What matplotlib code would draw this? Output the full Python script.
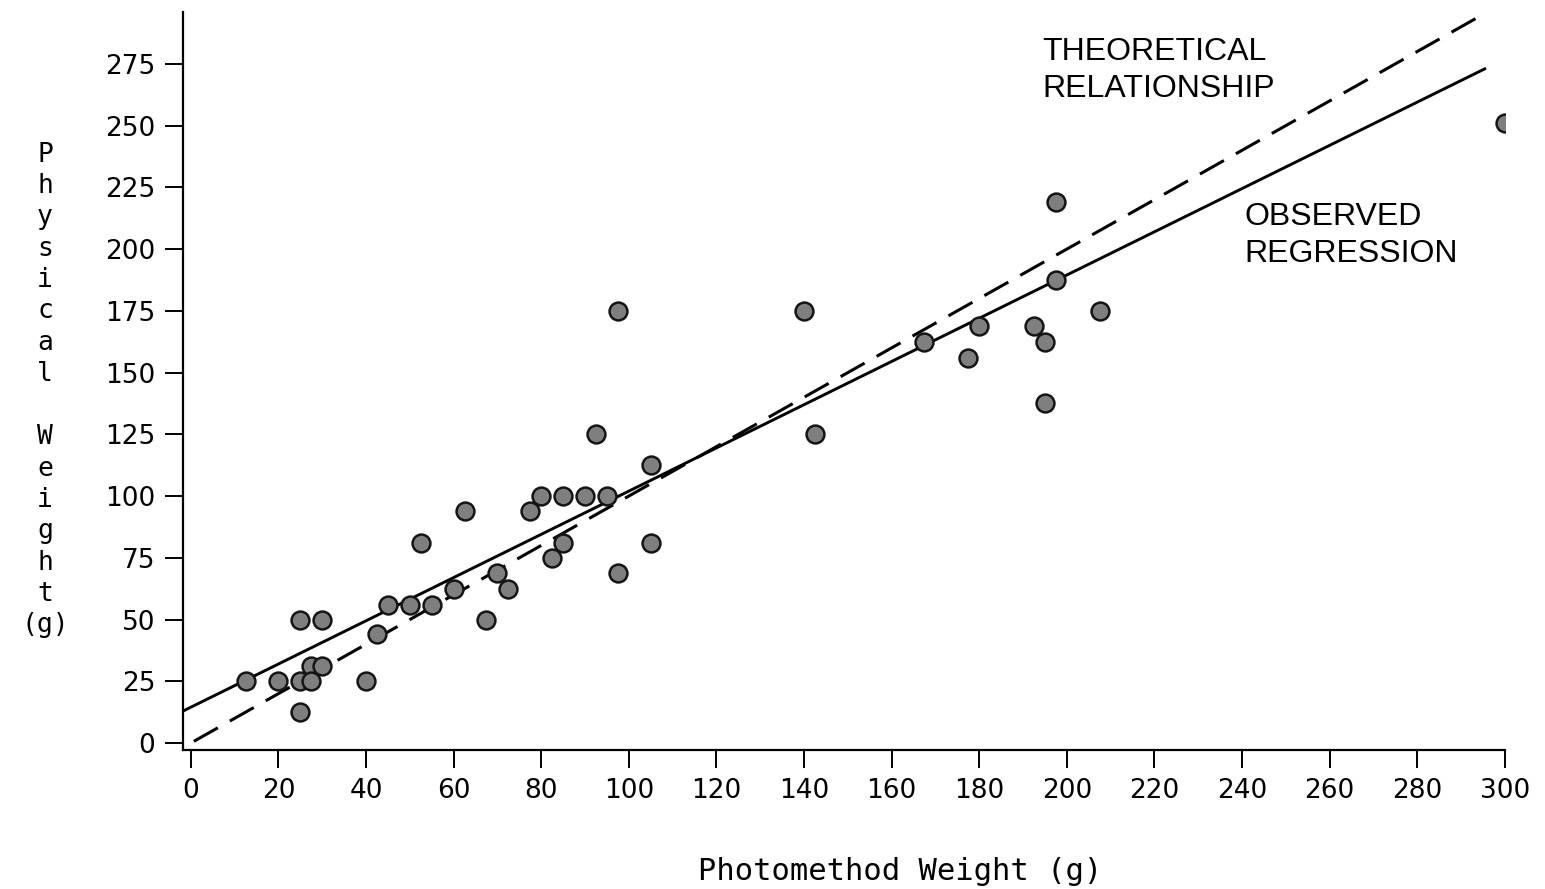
#!/usr/bin/env python

import numpy as np
import matplotlib.pyplot as plt

# photomethod weight (g) vs physical weight (g)
photo_weight = [12.5, 20, 25, 25, 25, 27.5, 27.5, 30, 30, 40, 42.5, 45, 50, 52.5, 55,
                60, 62.5, 67.5, 70, 72.5, 77.5, 80, 82.5, 85, 85, 90, 92.5, 95, 97.5, 97.5,
                105, 105, 140, 142.5, 167.5, 177.5, 180, 192.5, 195, 195, 197.5, 197.5,
                207.5, 300]
physical_weight = [25, 25, 50, 25, 12.5, 31, 25, 50, 31, 25, 44, 56, 56, 81, 56,
                   62.5, 94, 50, 69, 62.5, 94, 100, 75, 100, 81, 100, 125, 100, 175, 69,
                   112.5, 81, 175, 125, 162.5, 156, 169, 169, 162.5, 137.5, 219, 187.5,
                   175, 251]

# observed regression line
reg_intercept = 14.5
reg_slope = 0.875

x_ticks = list(range(0, 301, 20))
y_ticks = list(range(0, 276, 25))

fig = plt.figure(figsize=(15.45, 8.89), dpi=100)
ax = fig.add_axes([0.1184, 0.1564, 0.974 - 0.1184, 0.9865 - 0.1564])

xlim = (-1.8, 300)
ylim = (-2.8, 296)
ax.set_xlim(xlim)
ax.set_ylim(ylim)

# theoretical relationship (y = x)
xt = np.array([0.7, 296])
ax.plot(xt, xt, color="black", lw=2.2, dashes=(9, 4.5), zorder=2)

# observed regression
xr = np.array([xlim[0], 295.4])
ax.plot(xr, reg_intercept + reg_slope * xr, color="black", lw=2.1, zorder=2)

ax.scatter(photo_weight, physical_weight, s=165, facecolor="#7f7f7f",
           edgecolor="#151515", linewidth=1.8, zorder=3)

ax.text(194.5, 286, "THEORETICAL\nRELATIONSHIP", fontsize=23, family="Liberation Sans",
        va="top", ha="left", linespacing=1.3)
ax.text(240.6, 219, "OBSERVED\nREGRESSION", fontsize=23, family="Liberation Sans",
        va="top", ha="left", linespacing=1.3)

ax.set_xticks(x_ticks)
ax.set_yticks(y_ticks)
ax.tick_params(axis="both", direction="out", length=13, width=1.4, labelsize=19,
               pad=7)
for lab in ax.get_xticklabels() + ax.get_yticklabels():
    lab.set_family("DejaVu Sans")

for side in ["top", "right"]:
    ax.spines[side].set_visible(False)
for side in ["left", "bottom"]:
    ax.spines[side].set_linewidth(1.6)

fig.text(900 / 1545, 1 - 872 / 889, "Photomethod Weight (g)", fontsize=22,
         family="DejaVu Sans Mono", ha="center", va="center")

ylabel = "Physical Weight"
stack = "\n".join(ylabel) + "\n(g)"
fig.text(45 / 1545, 1 - 390 / 889, stack, fontsize=19, family="DejaVu Sans Mono",
         ha="center", va="center", linespacing=1.27)

fig.savefig("out.png", dpi=100)
plt.close(fig)
